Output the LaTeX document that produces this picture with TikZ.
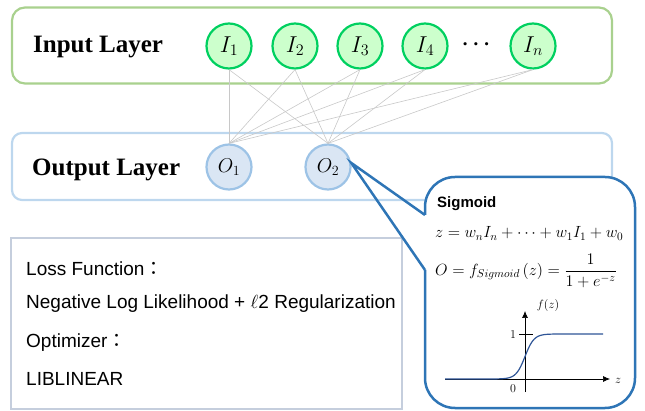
\RequirePackage{fix-cm}
\documentclass[tikz,border=0pt]{standalone}
\usepackage{fontspec}
\usepackage{amsmath}
\newfontfamily\serifB{Liberation Serif}
\newfontfamily\sansA{Liberation Sans}
\newfontfamily\cjk{Noto Sans CJK TC}
\usetikzlibrary{arrows.meta}
\definecolor{inedge}{RGB}{169,209,142}
\definecolor{incircedge}{RGB}{0,208,96}
\definecolor{incircfill}{RGB}{204,255,204}
\definecolor{outedge}{RGB}{189,215,238}
\definecolor{outcircedge}{RGB}{157,195,230}
\definecolor{outcircfill}{RGB}{218,230,244}
\definecolor{connc}{RGB}{200,200,200}
\definecolor{callc}{RGB}{46,117,182}
\definecolor{lossc}{RGB}{197,206,221}
\definecolor{curvec}{RGB}{47,85,151}
\tikzset{
  layerbox/.style={draw, line width=2.2pt, inner sep=0, minimum width=600},
  incirc/.style={circle, draw=incircedge, fill=incircfill, line width=2.2pt, minimum size=45, inner sep=0, font=\fontsize{23}{27}\selectfont},
  outcirc/.style={circle, draw=outcircedge, fill=outcircfill, line width=2.2pt, minimum size=45, inner sep=0, font=\fontsize{20}{24}\selectfont},
  layerlabel/.style={anchor=base west, inner sep=0, font=\serifB\bfseries\fontsize{25}{30}\selectfont},
  conn/.style={draw=connc, line width=0.6pt},
  callstroke/.style={draw=callc, line width=2.5pt},
  losstext/.style={anchor=base west, inner sep=0, font=\sansA\fontsize{19}{23}\selectfont},
  calltext/.style={inner sep=0, font=\fontsize{16.2}{19}\selectfont},
  axisline/.style={line width=0.7pt, -{Latex[length=7pt,width=6pt]}},
  smalllab/.style={inner sep=0, font=\fontsize{12}{14}\selectfont},
}
\begin{document}
\begin{tikzpicture}[x=1pt,y=-1pt]
\useasboundingbox (0,0) rectangle (645,411);
% layer boxes
\node[layerbox, draw=inedge, rounded corners=13, minimum height=76] (inbox) at (312,45.5) {};
\node[layerbox, draw=outedge, rounded corners=10, minimum height=67] (outbox) at (312,166.5) {};
\node[layerlabel] (inlabel) at (33,53) {Input Layer};
\node[layerlabel] (outlabel) at (32,176) {Output Layer};
% input nodes
\node[incirc] (I1) at (229,46) {$I_1$};
\node[incirc] (I2) at (295,46) {$I_2$};
\node[incirc] (I3) at (360,46) {$I_3$};
\node[incirc] (I4) at (425,46) {$I_4$};
\node[inner sep=0, font=\fontsize{21}{25}\selectfont\boldmath] (dots) at (478,45) {$\cdots$};
\node[incirc] (In) at (533,46) {$I_n$};
% output nodes
\node[outcirc] (O1) at (229,167) {$O_1$};
\node[outcirc] (O2) at (328,167) {$O_2$};
% connections
\foreach \i in {I1,I2,I3,I4,In}{
  \foreach \o in {O1,O2}{
    \draw[conn] (\i.south) -- (\o.north);
  }
}
% loss box
\node[draw=lossc, line width=1.5pt, minimum width=391, minimum height=171, inner sep=0] (loss) at (206.5,323.5) {};
\node[losstext] (t1) at (26,276) {Loss Function{\cjk ：}};
\node[losstext] (t2) at (26,309) {Negative Log Likelihood + $\ell$2 Regularization};
\node[losstext] (t3) at (26,348) {Optimizer{\cjk ：}};
\node[losstext] (t4) at (26,385) {LIBLINEAR};
% callout
\node[fill=white, rounded corners=30, minimum width=210, minimum height=231, inner sep=0] (callbody) at (530,292.5) {};
\coordinate (cA) at (425,215);
\coordinate (cB) at (425,270);
\coordinate (c1) at (425,408);
\coordinate (c2) at (635,408);
\coordinate (c3) at (635,177);
\coordinate (c4) at (425,177);
\draw[callstroke, rounded corners=30] (cB) -- (c1) -- (c2) -- (c3) -- (c4) -- (cA);
\draw[callstroke, line join=miter] (cA) -- (O2.10) -- (cB);
\node[calltext, anchor=base west, font=\sansA\bfseries\fontsize{15}{18}\selectfont] (sig) at (437,208) {Sigmoid};
\node[calltext, anchor=base west] (eq1) at (435,238) {$z = w_n I_n + \cdots + w_1 I_1 + w_0$};
\node[calltext, anchor=west] (eq2) at (435,271) {$O = f_{Sigmoid}\,(z) = \dfrac{1}{1+e^{-z}}$};
% graph
\coordinate (xs) at (445,379);
\coordinate (xe) at (610,379);
\coordinate (ys) at (525,392);
\coordinate (ye) at (525,311);
\coordinate (tk1) at (519,334);
\coordinate (tk2) at (533,334);
\draw[axisline] (xs) -- (xe);
\draw[axisline] (ys) -- (ye);
\draw[line width=0.7pt] (tk1) -- (tk2);
\node[smalllab] (lz) at (618,381) {$z$};
\node[smalllab] (lf) at (548,306) {$f(z)$};
\node[smalllab] (l1) at (513,335) {1};
\node[smalllab] (l0) at (513,389) {0};
\draw[curvec, line width=1.2pt] plot[domain=445:603, samples=120, smooth] (\x, {379-45/(1+exp(-max(-8,min(8,(\x-525)/4.5))))});
\end{tikzpicture}
\end{document}
